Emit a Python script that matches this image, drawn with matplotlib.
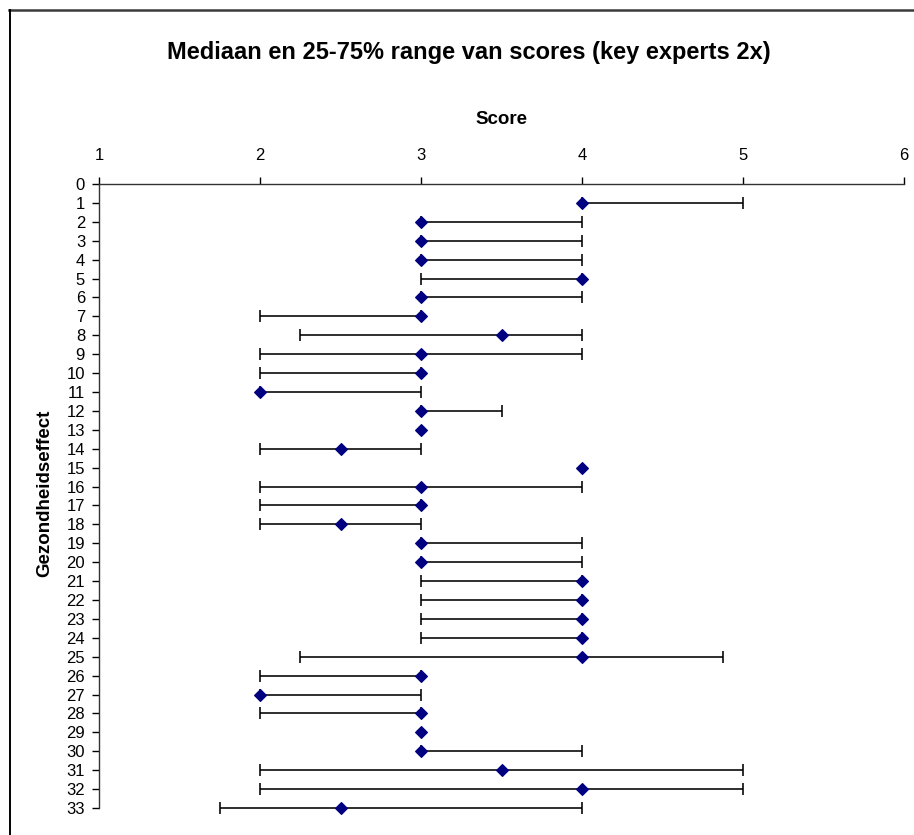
import matplotlib
matplotlib.use("Agg")
import matplotlib.pyplot as plt
from matplotlib.lines import Line2D
import numpy as np

plt.rcParams['font.family'] = ['Liberation Sans', 'DejaVu Sans']

# Health effect index (1..33), median score and 25-75% range
effects = list(range(1, 34))
median = [4, 3, 3, 3, 4, 3, 3, 3.5, 3, 3, 2, 3, 3, 2.5, 4, 3, 3, 2.5, 3, 3,
          4, 4, 4, 4, 4, 3, 2, 3, 3, 3, 3.5, 4, 2.5]
q25 = [4, 3, 3, 3, 3, 3, 2, 2.25, 2, 2, 2, 3, 3, 2, 4, 2, 2, 2, 3, 3,
       3, 3, 3, 3, 2.25, 2, 2, 2, 3, 3, 2, 2, 1.75]
q75 = [5, 4, 4, 4, 4, 4, 3, 4, 4, 3, 3, 3.5, 3, 3, 4, 4, 3, 3, 4, 4,
       4, 4, 4, 4, 4.875, 3, 3, 3, 3, 4, 5, 5, 4]

x_ticks = [1, 2, 3, 4, 5, 6]
y_ticks = list(range(0, 34))

W, H = 914, 835
fig = plt.figure(figsize=(W / 100, H / 100), dpi=100)

# outer frame (top and left edges visible)
fig.add_artist(Line2D([9 / W, 1], [1 - 10 / H, 1 - 10 / H], color='#3a3a3a', lw=1.8,
                      transform=fig.transFigure))
fig.add_artist(Line2D([9.5 / W, 9.5 / W], [0, 1 - 10 / H], color='black', lw=1.4,
                      transform=fig.transFigure))

ax_top, ax_bottom = 184, 808
ax = fig.add_axes([99 / W, 1 - ax_bottom / H, (904 - 99) / W, (ax_bottom - ax_top) / H])

eff = np.array(effects)
med = np.array(median, dtype=float)
lo = np.array(q25, dtype=float)
hi = np.array(q75, dtype=float)
has_range = hi > lo
center = (lo + hi) / 2
half = (hi - lo) / 2

bars = ax.errorbar(center[has_range], eff[has_range], xerr=half[has_range], fmt='none',
                   ecolor='black', elinewidth=1.15, capsize=4, capthick=1.15, zorder=2)
for child in bars.get_children():
    child.set_clip_on(False)
ax.plot(med, eff, linestyle='none', marker='D', markersize=6.2,
        markeredgewidth=0.8, color='#000080', markeredgecolor='#000080',
        zorder=3, clip_on=False)

ax.set_xlim(1, 6)
ax.set_ylim(33, 0)
ax.set_xticks(x_ticks)
ax.set_yticks(y_ticks)
ax.xaxis.tick_top()
ax.xaxis.set_label_position('top')

for s in ['right', 'bottom']:
    ax.spines[s].set_visible(False)
for s in ['top', 'left']:
    ax.spines[s].set_linewidth(1.0)
    ax.spines[s].set_color('#333333')

ax.tick_params(axis='x', direction='out', length=5, width=1, pad=10.4, labelsize=12)
ax.tick_params(axis='y', direction='out', length=5, width=1, pad=5, labelsize=12)

ax.set_xlabel('Score', fontsize=13.5, fontweight='bold')
ax.xaxis.set_label_coords(0.5, 1 + (ax_top - 120) / (ax_bottom - ax_top))
ax.xaxis.label.set_va('center')
ax.set_ylabel('Gezondheidseffect', fontsize=13.5, fontweight='bold')
ax.yaxis.set_label_coords(-(99 - 45) / (904 - 99), 1 - (493 - ax_top) / (ax_bottom - ax_top))
ax.yaxis.label.set_ha('center')
ax.yaxis.label.set_va('center')

fig.text(469 / W, 1 - 52 / H, 'Mediaan en 25-75% range van scores (key experts 2x)',
         ha='center', va='center', fontsize=17, fontweight='bold')

fig.savefig('out.png', dpi=100)
